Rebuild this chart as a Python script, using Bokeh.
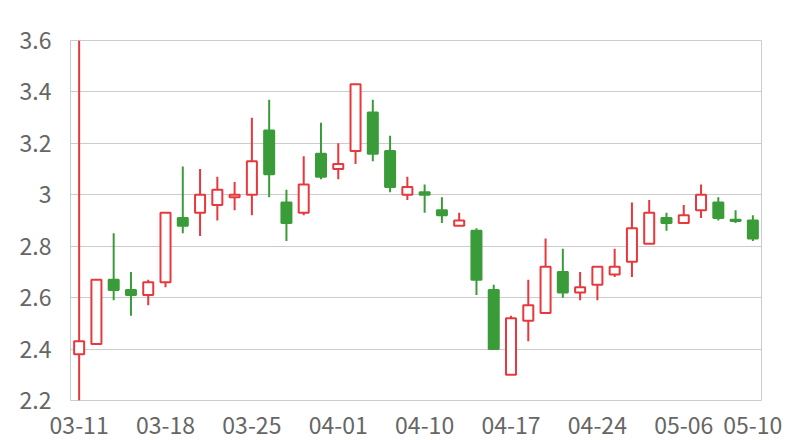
from bokeh.plotting import figure
from bokeh.models import ColumnDataSource, FixedTicker, Range1d
from bokeh.embed import file_html
from bokeh.resources import INLINE

dates = ["03-11", "03-12", "03-13", "03-14", "03-15",
         "03-18", "03-19", "03-20", "03-21", "03-22",
         "03-25", "03-26", "03-27", "03-28", "03-29",
         "04-01", "04-02", "04-03", "04-08", "04-09",
         "04-10", "04-11", "04-12", "04-15", "04-16",
         "04-17", "04-18", "04-19", "04-22", "04-23",
         "04-24", "04-25", "04-26", "04-29", "04-30",
         "05-06", "05-07", "05-08", "05-09", "05-10"]
open_ = [2.38, 2.42, 2.67, 2.63, 2.61, 2.66, 2.91, 2.93, 2.96, 2.99,
         3.00, 3.25, 2.97, 2.93, 3.16, 3.10, 3.17, 3.32, 3.17, 3.00,
         3.01, 2.94, 2.88, 2.86, 2.63, 2.30, 2.51, 2.54, 2.70, 2.62,
         2.65, 2.69, 2.74, 2.81, 2.91, 2.89, 2.94, 2.97, 2.903, 2.90]
close = [2.43, 2.67, 2.63, 2.61, 2.66, 2.93, 2.88, 3.00, 3.02, 3.00,
         3.13, 3.08, 2.89, 3.04, 3.07, 3.12, 3.43, 3.16, 3.03, 3.03,
         3.00, 2.92, 2.90, 2.67, 2.40, 2.52, 2.57, 2.72, 2.62, 2.64,
         2.72, 2.72, 2.87, 2.93, 2.89, 2.92, 3.00, 2.91, 2.898, 2.83]
high = [3.60, 2.67, 2.85, 2.70, 2.67, 2.93, 3.11, 3.10, 3.07, 3.05,
        3.30, 3.37, 3.02, 3.15, 3.28, 3.20, 3.43, 3.37, 3.23, 3.07,
        3.04, 2.99, 2.93, 2.87, 2.65, 2.53, 2.67, 2.83, 2.79, 2.70,
        2.72, 2.79, 2.97, 2.98, 2.93, 2.96, 3.04, 2.99, 2.94, 2.92]
low = [2.20, 2.42, 2.59, 2.53, 2.57, 2.64, 2.85, 2.84, 2.90, 2.94,
       2.92, 2.99, 2.82, 2.92, 3.06, 3.06, 3.12, 3.13, 3.01, 2.98,
       2.93, 2.89, 2.88, 2.61, 2.40, 2.30, 2.43, 2.54, 2.60, 2.59,
       2.59, 2.68, 2.68, 2.81, 2.86, 2.89, 2.91, 2.90, 2.89, 2.82]
tick_index = [0, 5, 10, 15, 20, 25, 30, 35, 39]
y_ticks = [2.2, 2.4, 2.6, 2.8, 3.0, 3.2, 3.4, 3.6]
y_labels = ["2.2", "2.4", "2.6", "2.8", "3", "3.2", "3.4", "3.6"]

RED = "#e8383d"
GREEN = "#3a9c38"

x = list(range(len(dates)))
up = [c >= o for o, c in zip(open_, close)]
colors = [RED if u else GREEN for u in up]
fills = ["#ffffff" if u else GREEN for u in up]
top = [max(o, c) for o, c in zip(open_, close)]
bottom = [min(o, c) for o, c in zip(open_, close)]

src = ColumnDataSource(dict(x=x, open=open_, close=close, high=high, low=low,
                            top=top, bottom=bottom, color=colors, fill=fills))

p = figure(width=792, height=440, output_backend="svg", toolbar_location=None,
           x_range=Range1d(-0.5, len(dates) - 0.5), y_range=Range1d(2.2, 3.6),
           min_border_left=70, min_border_top=40, min_border_right=31, min_border_bottom=40)
p.outline_line_color = "#cccccc"
p.outline_line_width = 1

p.segment(x0="x", y0="low", x1="x", y1="high", source=src, line_color="color", line_width=2)
p.vbar(x="x", width=0.58, top="top", bottom="bottom", source=src,
       fill_color="fill", line_color="color", line_width=2)

p.xgrid.grid_line_color = None
p.ygrid.grid_line_color = "#cccccc"
p.ygrid.ticker = FixedTicker(ticks=y_ticks)

p.yaxis.ticker = FixedTicker(ticks=y_ticks)
p.yaxis.major_label_overrides = {t: l for t, l in zip(y_ticks, y_labels)}
p.xaxis.ticker = FixedTicker(ticks=tick_index)
p.xaxis.major_label_overrides = {i: dates[i] for i in tick_index}

for ax in (p.xaxis[0], p.yaxis[0]):
    ax.axis_line_color = None
    ax.major_tick_line_color = None
    ax.minor_tick_line_color = None
    ax.major_label_text_font = "Noto Sans CJK SC"
    ax.major_label_text_font_size = "23px"
    ax.major_label_text_color = "#666666"
p.yaxis.major_label_standoff = 13
p.xaxis.major_label_standoff = 10
p.yaxis[0].axis_line_color = "#cccccc"

open("out.html", "w").write(file_html(p, INLINE))
